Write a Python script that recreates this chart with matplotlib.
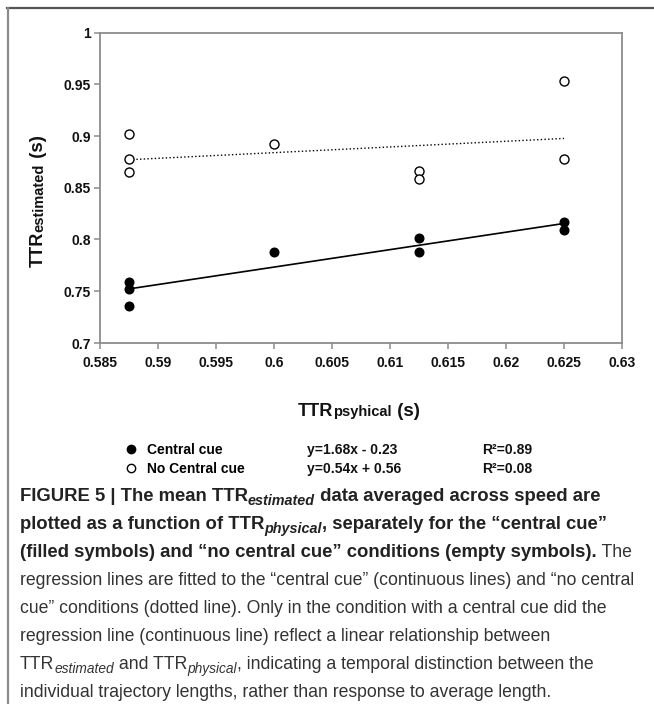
import numpy as np
import matplotlib
matplotlib.use('Agg')
import matplotlib.pyplot as plt
from matplotlib.lines import Line2D

W, H = 654, 704

# data
x_tick_labels = ['0.585', '0.59', '0.595', '0.6', '0.605', '0.61', '0.615', '0.62', '0.625', '0.63']
y_tick_labels = ['0.7', '0.75', '0.8', '0.85', '0.9', '0.95', '1']
x_cue = [0.5875, 0.5875, 0.5875, 0.6, 0.6125, 0.6125, 0.625, 0.625]
y_cue = [0.759, 0.752, 0.736, 0.788, 0.801, 0.788, 0.817, 0.809]
x_nocue = [0.5875, 0.5875, 0.5875, 0.6, 0.6125, 0.6125, 0.625, 0.625]
y_nocue = [0.902, 0.878, 0.865, 0.892, 0.866, 0.858, 0.953, 0.878]
series_names = ['Central cue', 'No Central cue']
equations = ['y=1.68x - 0.23', 'y=0.54x + 0.56']
r2_labels = ['R\u00b2=0.89', 'R\u00b2=0.08']

plt.rcParams['font.family'] = ['Liberation Sans', 'DejaVu Sans']

fig = plt.figure(figsize=(W / 100, H / 100), dpi=100)
ax = fig.add_axes([100 / W, 1 - 343 / H, 522 / W, 310.5 / H])

gray = '#8c8c8c'
ax.plot(x_cue, y_cue, 'o', color='black', markersize=6.2, zorder=3)
ax.plot(x_nocue, y_nocue, 'o', mfc='white', mec='black', mew=1, markersize=6.5, zorder=3)

# regression lines
for xs, ys, ls in [(x_cue, y_cue, '-'), (x_nocue, y_nocue, ':')]:
    k, b = np.polyfit(xs, ys, 1)
    xx = np.array([min(xs), max(xs)])
    ax.plot(xx, k * xx + b, ls, color='black', lw=1.2 if ls == '-' else 1.0, zorder=2)

xt = [float(s) for s in x_tick_labels]
yt = [float(s) for s in y_tick_labels]
ax.set_xlim(xt[0], xt[-1])
ax.set_ylim(yt[0], yt[-1])
ax.set_xticks(xt)
ax.set_xticklabels(x_tick_labels)
ax.set_yticks(yt)
ax.set_yticklabels(y_tick_labels)
for sp in ax.spines.values():
    sp.set_color(gray)
    sp.set_linewidth(1.3)
ax.tick_params(axis='both', direction='out', length=4, width=1.1, color=gray,
               labelsize=10, labelcolor='#111111')
ax.tick_params(axis='x', pad=5.5)
ax.tick_params(axis='y', pad=2.5)
for lab in ax.get_xticklabels() + ax.get_yticklabels():
    lab.set_fontweight('bold')

r = fig.canvas.get_renderer()


def chain(pieces, x0, y0, rot=False):
    # place text pieces one after another, pixel coords from the top left
    x, y = x0, y0
    for s, kw in pieces:
        kw = dict(kw)
        dy = kw.pop('dy', 0)
        if not rot:
            t = fig.text(x / W, 1 - (y + dy) / H, s, ha='left', va='baseline', **kw)
            x += t.get_window_extent(r).width
        else:
            t = fig.text((x + dy) / W, 1 - y / H, s, rotation=90, rotation_mode='anchor',
                         ha='left', va='baseline', **kw)
            y -= t.get_window_extent(r).height
    return x, y


# axis labels
big = dict(fontsize=13, fontweight='bold', color='#111111')
small = dict(fontsize=10.5, fontweight='bold', color='#111111')
paren = dict(fontsize=13.5, fontweight='bold', color='#111111')
chain([('TTR', big), ('psyhical', small), (' (s)', paren)], 298, 416)
chain([('TTR', big), ('estimated', small), (' (s)', paren)], 43, 267, rot=True)

# legend
h1 = Line2D([], [], ls='none', marker='o', color='black', markersize=6)
h2 = Line2D([], [], ls='none', marker='o', mfc='white', mec='black', mew=1, markersize=6)
leg = fig.legend([h1, h2], series_names, loc='center left',
                 bbox_to_anchor=(124 / W, 1 - 459.5 / H), frameon=False,
                 prop=dict(family='Liberation Sans', weight='bold', size=10),
                 handlelength=1.0, handletextpad=0.65, labelspacing=0.38,
                 borderpad=0, borderaxespad=0)
for i, (eq, r2) in enumerate(zip(equations, r2_labels)):
    yy = 1 - (450 + 19 * i) / H
    fig.text(307 / W, yy, eq, fontsize=10, fontweight='bold', va='center', color='#111111')
    fig.text(482 / W, yy, r2, fontsize=10, fontweight='bold', va='center', color='#111111')

# frame around the figure
fig.add_artist(Line2D([7 / W, 653 / W], [1 - 8.3 / H, 1 - 8.3 / H], color='#555555', lw=1.6,
                      transform=fig.transFigure))
fig.add_artist(Line2D([7.5 / W, 7.5 / W], [1 - 8.3 / H, 0], color='#8a8a8a', lw=1.6,
                      transform=fig.transFigure))

cap_font = 'Liberation Sans'


def fit_size(s, weight, target):
    t = fig.text(0, 0, s, fontsize=10, family=cap_font, fontweight=weight)
    w = t.get_window_extent(r).width
    t.remove()
    return 10 * target / w


fs_reg = fit_size('regression lines are fitted to the \u201ccentral cue\u201d (continuous lines) and \u201cno central', 'normal', 617)
fs_bold = fit_size('(filled symbols) and \u201cno central cue\u201d conditions (empty symbols).', 'bold', 580)

B = dict(family=cap_font, fontweight='bold', fontsize=fs_bold, color='#222222')
BS = dict(family=cap_font, fontweight='bold', fontstyle='italic', fontsize=fs_bold * 0.78, color='#222222', dy=4)
R = dict(family=cap_font, fontsize=fs_reg, color='#333333')
RS = dict(family=cap_font, fontstyle='italic', fontsize=fs_reg * 0.78, color='#333333', dy=4)

caption = [
    [('FIGURE 5 | The mean TTR', B), ('estimated', BS), (' data averaged across speed are', B)],
    [('plotted as a function of TTR', B), ('physical', BS), (', separately for the \u201ccentral cue\u201d', B)],
    [('(filled symbols) and \u201cno central cue\u201d conditions (empty symbols).', B), (' The', R)],
    [('regression lines are fitted to the \u201ccentral cue\u201d (continuous lines) and \u201cno central', R)],
    [('cue\u201d conditions (dotted line). Only in the condition with a central cue did the', R)],
    [('regression line (continuous line) reflect a linear relationship between', R)],
    [('TTR', R), ('estimated', RS), (' and TTR', R), ('physical', RS),
     (', indicating a temporal distinction between the', R)],
    [('individual trajectory lengths, rather than response to average length.', R)],
]
for i, line in enumerate(caption):
    chain(line, 20, 501 + 28 * i)

fig.savefig('out.png', dpi=100)
